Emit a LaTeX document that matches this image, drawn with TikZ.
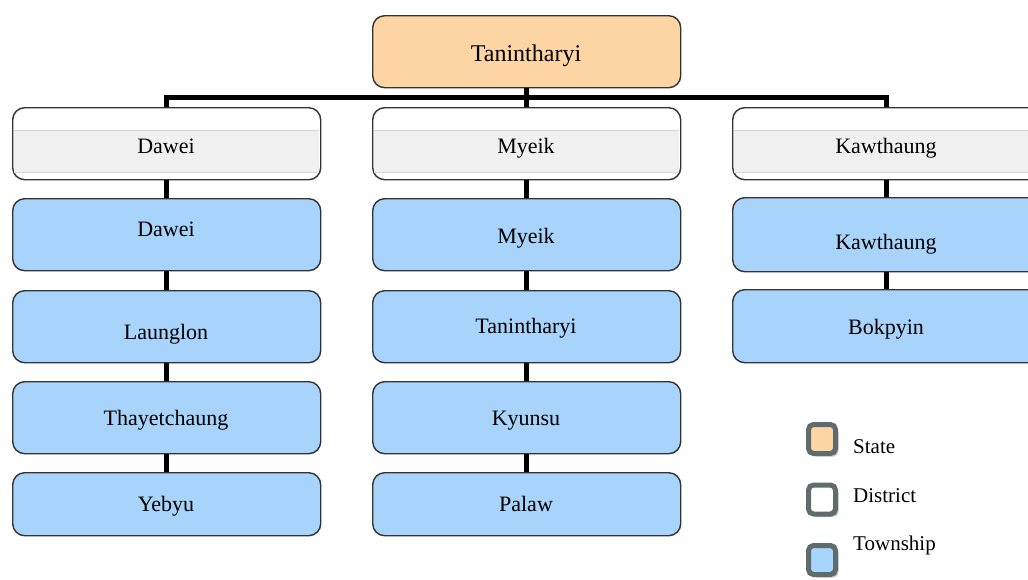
\documentclass[tikz,border=0pt]{standalone}
\usepackage{fontspec}
\setmainfont{Liberation Serif}
\usetikzlibrary{shadows}
\definecolor{statefill}{HTML}{FDD4A4}
\definecolor{twpfill}{HTML}{A8D4FC}
\definecolor{boxline}{HTML}{333333}
\definecolor{bandfill}{HTML}{F0F0F0}
\definecolor{bandline}{HTML}{D6D6D6}
\definecolor{legline}{HTML}{5E6C6C}
\begin{document}
\begin{tikzpicture}[x=1pt,y=-1pt,
  box/.style={draw=boxline, line width=1.4pt, rounded corners=12pt,
    minimum width=308pt, minimum height=72pt, inner sep=0pt,
    anchor=north west, rectangle},
  statebox/.style={box, fill=statefill},
  distbox/.style={box, fill=white},
  twpbox/.style={box, fill=twpfill},
  lbl/.style={font=\fontsize{22}{26}\selectfont, anchor=base, inner sep=0pt},
  biglbl/.style={font=\fontsize{24}{28}\selectfont, anchor=base, inner sep=0pt},
  leglbl/.style={font=\fontsize{21}{25}\selectfont, anchor=base west, inner sep=0pt},
  legbox/.style={rectangle, draw=legline, line width=5pt, rounded corners=5pt,
    minimum width=27pt, minimum height=29pt, inner sep=0pt,
    drop shadow={shadow xshift=3pt, shadow yshift=-3pt, opacity=0.35, fill=black!60}},
  conn/.style={draw=black, line width=4.5pt, line join=miter}
]
\useasboundingbox (0,0) rectangle (1028,579);
\clip (0,0) rectangle (1028,579);
\fill[white] (0,0) rectangle (1028,579);

% state
\node[statebox] (state) at (372,15) {};
% districts
\node[distbox] (dD) at (12,107) {};
\node[distbox] (mD) at (372,107) {};
\node[distbox] (kD) at (732,107) {};
\foreach \x in {12,372,732} {
  \fill[bandfill] (\x+1.5,130) rectangle (\x+306.5,172);
  \draw[bandline, line width=1pt] (\x+1.5,130) -- ++(305,0) (\x+1.5,172) -- ++(305,0);
}
% townships
\node[twpbox] (dT1) at (12,198) {};
\node[twpbox] (dT2) at (12,290) {};
\node[twpbox] (dT3) at (12,381) {};
\node[twpbox, minimum height=63pt] (dT4) at (12,472) {};
\node[twpbox] (mT1) at (372,198) {};
\node[twpbox] (mT2) at (372,290) {};
\node[twpbox] (mT3) at (372,381) {};
\node[twpbox, minimum height=63pt] (mT4) at (372,472) {};
\node[twpbox, minimum height=74pt] (kT1) at (732,197) {};
\node[twpbox, minimum height=73pt] (kT2) at (732,289) {};

% connectors
\draw[conn] (state.south) -- (mD.north);
\draw[conn] (dD.north) -- ++(0,-9.5) -| (kD.north);
\draw[conn] (dD.south) -- (dT1.north);
\draw[conn] (dT1.south) -- (dT2.north);
\draw[conn] (dT2.south) -- (dT3.north);
\draw[conn] (dT3.south) -- (dT4.north);
\draw[conn] (mD.south) -- (mT1.north);
\draw[conn] (mT1.south) -- (mT2.north);
\draw[conn] (mT2.south) -- (mT3.north);
\draw[conn] (mT3.south) -- (mT4.north);
\draw[conn] (kD.south) -- (kT1.north);
\draw[conn] (kT1.south) -- (kT2.north);

% labels
\node[biglbl] (tState) at (526,61.5) {Tanintharyi};
\node[lbl] (tdD) at (166,153) {Dawei};
\node[lbl] (tmD) at (526,153) {Myeik};
\node[lbl] (tkD) at (886,153) {Kawthaung};
\node[lbl] (tdT1) at (166,236) {Dawei};
\node[lbl] (tdT2) at (166,339) {Launglon};
\node[lbl] (tdT3) at (166,425) {Thayetchaung};
\node[lbl] (tdT4) at (166,511) {Yebyu};
\node[lbl] (tmT1) at (526,243) {Myeik};
\node[lbl] (tmT2) at (526,333) {Tanintharyi};
\node[lbl] (tmT3) at (526,425) {Kyunsu};
\node[lbl] (tmT4) at (526,511) {Palaw};
\node[lbl] (tkT1) at (886,249) {Kawthaung};
\node[lbl] (tkT2) at (886,334) {Bokpyin};

% legend
\node[legbox, fill=statefill] (lgS) at (822,439) {};
\node[legbox, fill=white] (lgD) at (822,499.5) {};
\node[legbox, fill=twpfill] (lgT) at (822,560) {};
\node[leglbl] (lgSt) at (853,453) {State};
\node[leglbl] (lgDt) at (853,502) {District};
\node[leglbl] (lgTt) at (853,550) {Township};
\end{tikzpicture}
\end{document}
